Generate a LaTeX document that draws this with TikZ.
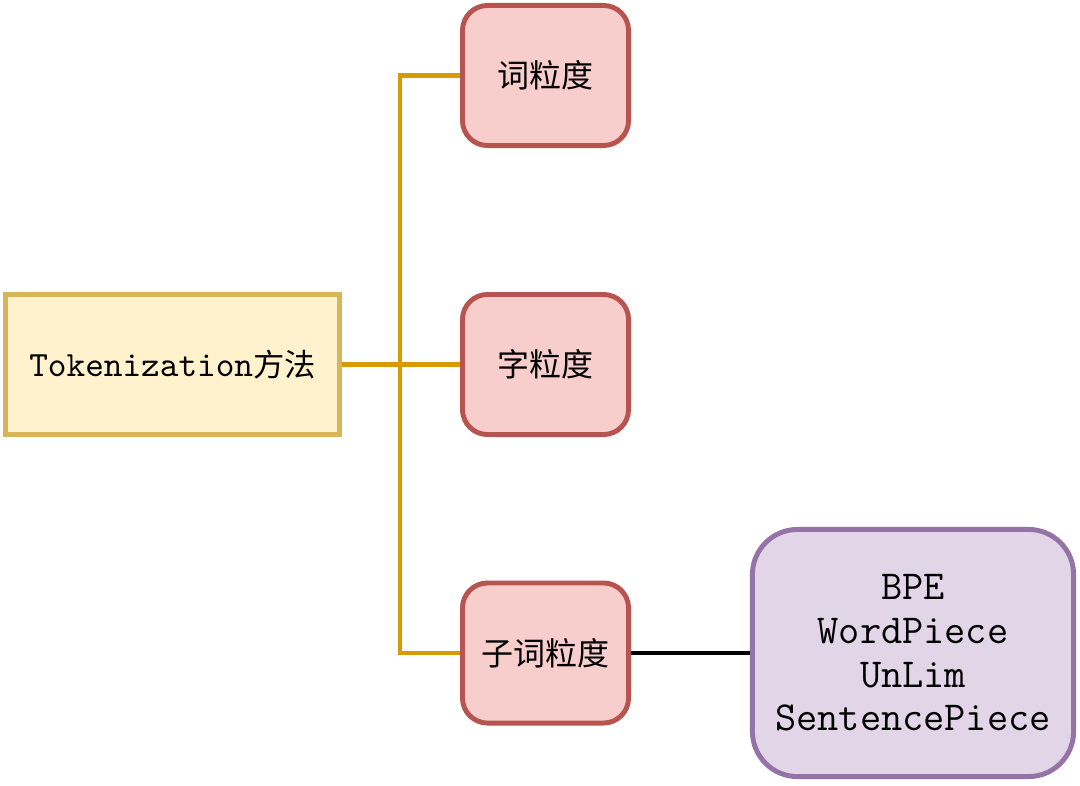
\documentclass[tikz,border=0pt]{standalone}
\usepackage{fontspec}
\newfontfamily\cjk{Noto Sans CJK SC}
\usetikzlibrary{positioning, calc}

\definecolor{rootfill}{HTML}{FFF2CC}
\definecolor{rootdraw}{HTML}{D6B656}
\definecolor{redfill}{HTML}{F8CECC}
\definecolor{reddraw}{HTML}{B85450}
\definecolor{purplefill}{HTML}{E1D5E7}
\definecolor{purpledraw}{HTML}{9673A6}
\definecolor{branch}{HTML}{D79B00}

\begin{document}
\begin{tikzpicture}[x=0.01cm, y=-0.01cm, thick,
					rootbox/.style={draw=rootdraw, fill=rootfill, line width=1.4pt,
						minimum width=3.34cm, minimum height=1.40cm, inner sep=0pt,
						font=\ttfamily\fontsize{10.1pt}{12pt}\selectfont},
					granbox/.style={draw=reddraw, fill=redfill, line width=1.4pt,
						rounded corners=0.25cm, minimum width=1.66cm, minimum height=1.40cm,
						inner sep=0pt, font=\cjk\fontsize{9.1pt}{11pt}\selectfont},
					algobox/.style={draw=purpledraw, fill=purplefill, line width=1.4pt,
						rounded corners=0.45cm, minimum width=3.21cm, minimum height=2.47cm,
						inner sep=0pt, align=center,
						font=\ttfamily\fontsize{11.7pt}{12.4pt}\selectfont},
					branchline/.style={draw=branch, line width=1.15pt},
					linkline/.style={draw=black, line width=1.15pt} ]
	\useasboundingbox (0,0) rectangle (1080,785);

	\node[rootbox]  (tok)   at (172.5,364.5) {Tokenization{\cjk\fontsize{8.9pt}{11pt}\selectfont 方法}};
	\node[granbox]  (word)  at (545.5,75.5)  {词粒度};
	\node[granbox]  (char)  at (545.5,364.5) {字粒度};
	\node[granbox]  (sub)   at (545.5,653)   {子词粒度};
	\node[algobox]  (algo)  at (913,653)     {BPE\\WordPiece\\UnLim\\SentencePiece};

	\coordinate (hub) at (400,364.5);

	%Ligações:
	\path[branchline] (tok.east) -- (hub);
	\path[branchline] (hub) |- (word.west);
	\path[branchline] (hub) -- (char.west);
	\path[branchline] (hub) |- (sub.west);
	\path[linkline] (sub.east) -- (algo.west);
\end{tikzpicture}
\end{document}
